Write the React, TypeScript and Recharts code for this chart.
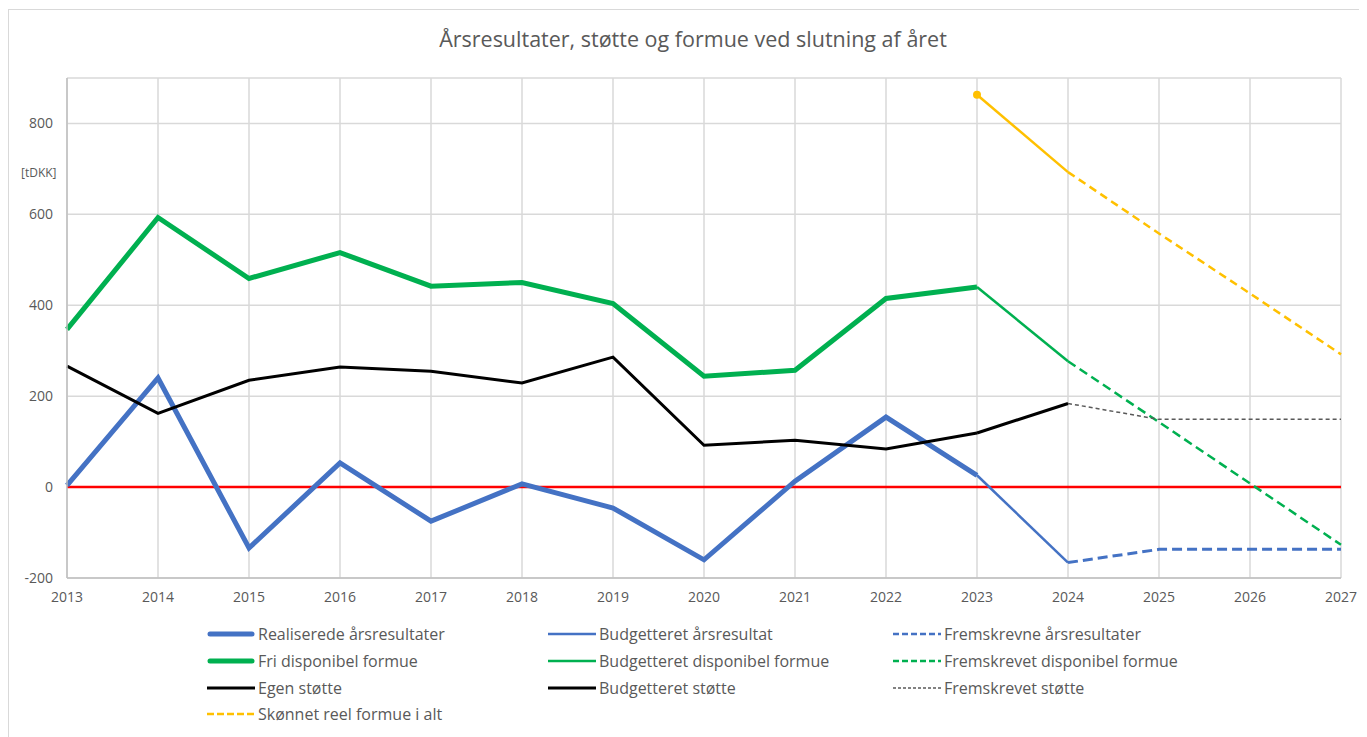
import React from 'react';
import { LineChart, Line, XAxis, YAxis, CartesianGrid, ReferenceLine, Legend } from 'recharts';

const years = [2013, 2014, 2015, 2016, 2017, 2018, 2019, 2020, 2021, 2022, 2023, 2024, 2025, 2026, 2027];
const realiseredeAarsresultater = [4, 240, -134, 53, -75, 7, -46, -160, 13, 154, 26, null, null, null, null];
const budgetteretAarsresultat = [null, null, null, null, null, null, null, null, null, null, 26, -166, null, null, null];
const fremskrevneAarsresultater = [null, null, null, null, null, null, null, null, null, null, null, -166, -137, -137, -137];
const friDisponibelFormue = [347, 593, 459, 516, 442, 450, 404, 244, 257, 415, 440, null, null, null, null];
const budgetteretDisponibelFormue = [null, null, null, null, null, null, null, null, null, null, 440, 277, null, null, null];
const fremskrevetDisponibelFormue = [null, null, null, null, null, null, null, null, null, null, null, 277, 143, 8, -127];
const egenStoette = [266, 162, 235, 264, 255, 229, 286, 92, 103, 84, 119, null, null, null, null];
const budgetteretStoette = [null, null, null, null, null, null, null, null, null, null, 119, 184, null, null, null];
const fremskrevetStoette = [null, null, null, null, null, null, null, null, null, null, null, 184, 149, 149, 149];
const skoennetReelFormueStart = [null, null, null, null, null, null, null, null, null, null, 863, 693, null, null, null];
const skoennetReelFormue = [null, null, null, null, null, null, null, null, null, null, null, 693, 558, 426, 292];
const yTicks = [-200, 0, 200, 400, 600, 800];

const data = years.map((year, i) => ({
  year,
  realisered: realiseredeAarsresultater[i],
  budgetResultat: budgetteretAarsresultat[i],
  fremResultat: fremskrevneAarsresultater[i],
  friFormue: friDisponibelFormue[i],
  budgetFormue: budgetteretDisponibelFormue[i],
  fremFormue: fremskrevetDisponibelFormue[i],
  egen: egenStoette[i],
  budgetStoette: budgetteretStoette[i],
  fremStoette: fremskrevetStoette[i],
  reelStart: skoennetReelFormueStart[i],
  reel: skoennetReelFormue[i],
}));

const FONT = '"Open Sans", "Noto Sans", sans-serif';
const TXT = '#595959';
const BLUE = '#4472C4';
const GREEN = '#00B050';
const GREY = '#595959';
const YELLOW = '#FFC000';

const CW = 1358;
const CH = 727;

type LegendItem = { label: string; color: string; width: number; dash?: string };
const legendCols = [207, 548, 893];
const legendRows = [634, 661, 688, 714];
const legendItems: LegendItem[][] = [
  [
    { label: 'Realiserede årsresultater', color: BLUE, width: 5 },
    { label: 'Budgetteret årsresultat', color: BLUE, width: 2.5 },
    { label: 'Fremskrevne årsresultater', color: BLUE, width: 2.5, dash: '6 3' },
  ],
  [
    { label: 'Fri disponibel formue', color: GREEN, width: 5 },
    { label: 'Budgetteret disponibel formue', color: GREEN, width: 2.5 },
    { label: 'Fremskrevet disponibel formue', color: GREEN, width: 2.5, dash: '6 3' },
  ],
  [
    { label: 'Egen støtte', color: '#000', width: 3 },
    { label: 'Budgetteret støtte', color: '#000', width: 3 },
    { label: 'Fremskrevet støtte', color: GREY, width: 1.5, dash: '3 2' },
  ],
  [{ label: 'Skønnet reel formue i alt', color: YELLOW, width: 2.5, dash: '7 3' }],
];

const renderLegend = () => (
  <div style={{ position: 'relative', width: CW, height: CH, fontFamily: FONT }}>
    {legendItems.map((row, r) =>
      row.map((it, c) => {
        const x = legendCols[c] - 9;
        const y = legendRows[r] - 10;
        return (
          <div key={r + '-' + c} style={{ position: 'absolute', left: x, top: y - 10, height: 20, display: 'flex', alignItems: 'center', whiteSpace: 'nowrap' }}>
            <svg width={48} height={10} style={{ display: 'block' }}>
              <line x1={it.width > 3 ? 3 : 0} y1={5} x2={it.width > 3 ? 45 : 48} y2={5} stroke={it.color} strokeWidth={it.width} strokeDasharray={it.dash} strokeLinecap={it.width > 3 ? 'round' : 'butt'} />
            </svg>
            <span style={{ marginLeft: 3, fontSize: 16, color: TXT, lineHeight: '20px' }}>{it.label}</span>
          </div>
        );
      })
    )}
  </div>
);

export default function App() {
  return (
    <div style={{ position: 'relative', width: CW, height: CH, marginTop: 1, borderLeft: '1px solid #d9d9d9', borderTop: '1px solid #d9d9d9', background: '#fff', fontFamily: FONT }}>
      <div style={{ position: 'absolute', left: 0, width: 1368, top: 14, textAlign: 'center', fontSize: 21.5, color: TXT, lineHeight: '30px', zIndex: 2 }}>
        Årsresultater, støtte og formue ved slutning af året
      </div>
      <div style={{ position: 'absolute', left: 12, top: 154, fontSize: 12, color: TXT, lineHeight: '18px', zIndex: 2 }}>[tDKK]</div>
      <LineChart width={CW} height={CH} data={data} margin={{ top: 68, right: 26, left: 0, bottom: 129 }}>
        <CartesianGrid stroke="#d9d9d9" strokeWidth={1.5} />
        <XAxis
          dataKey="year"
          type="number"
          domain={[2013, 2027]}
          ticks={years}
          allowDecimals={false}
          height={30}
          tickSize={0}
          tickMargin={14}
          axisLine={{ stroke: '#bfbfbf', strokeWidth: 1.5 }}
          tick={{ fill: TXT, fontSize: 14, fontFamily: FONT }}
        />
        <YAxis
          type="number"
          domain={[-200, 900]}
          ticks={yTicks}
          width={58}
          tickSize={0}
          tickMargin={14}
          axisLine={{ stroke: '#bfbfbf', strokeWidth: 1.5 }}
          tick={{ fill: TXT, fontSize: 14, fontFamily: FONT }}
        />
        <ReferenceLine y={0} stroke="#FF0000" strokeWidth={2.5} />
        <Line dataKey="budgetResultat" stroke={BLUE} strokeWidth={2.5} dot={false} isAnimationActive={false} />
        <Line dataKey="fremResultat" stroke={BLUE} strokeWidth={3} strokeDasharray="10 5" dot={false} isAnimationActive={false} />
        <Line dataKey="realisered" stroke={BLUE} strokeWidth={5} dot={false} isAnimationActive={false} />
        <Line dataKey="budgetFormue" stroke={GREEN} strokeWidth={2.5} dot={false} isAnimationActive={false} />
        <Line dataKey="fremFormue" stroke={GREEN} strokeWidth={2.5} strokeDasharray="9 5" dot={false} isAnimationActive={false} />
        <Line dataKey="friFormue" stroke={GREEN} strokeWidth={5} dot={false} isAnimationActive={false} />
        <Line dataKey="fremStoette" stroke={GREY} strokeWidth={1.5} strokeDasharray="4 3" dot={false} isAnimationActive={false} />
        <Line dataKey="budgetStoette" stroke="#000" strokeWidth={3} dot={false} isAnimationActive={false} />
        <Line dataKey="egen" stroke="#000" strokeWidth={3} dot={false} isAnimationActive={false} />
        <Line dataKey="reel" stroke={YELLOW} strokeWidth={2.5} strokeDasharray="8 5" dot={false} isAnimationActive={false} />
        <Line
          dataKey="reelStart"
          stroke={YELLOW}
          strokeWidth={2.5}
          isAnimationActive={false}
          dot={(p: any) => (p.index === 10 ? <circle key={'d' + p.index} cx={p.cx} cy={p.cy} r={4} fill={YELLOW} stroke="none" /> : <g key={'d' + p.index} />)}
        />
        <Legend
          layout="horizontal"
          verticalAlign="middle"
          align="center"
          content={renderLegend}
          wrapperStyle={{ position: 'absolute', left: 0, top: 0, width: CW, height: CH, pointerEvents: 'none' }}
        />
      </LineChart>
    </div>
  );
}
